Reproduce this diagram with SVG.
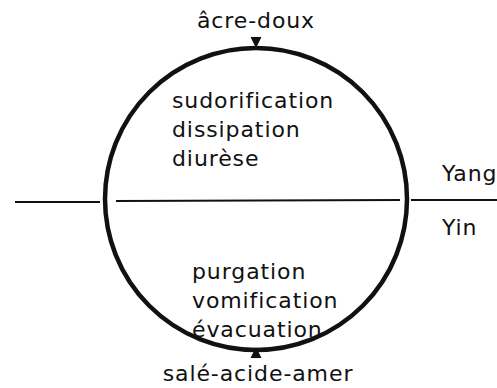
<svg xmlns="http://www.w3.org/2000/svg" width="497" height="388" viewBox="0 0 497 388">
<style>
text{font-family:"DejaVu Sans","Liberation Sans",sans-serif;font-size:22px;fill:#111;letter-spacing:0.9px}
.ln{stroke:#111;stroke-width:2;fill:none}
.c{stroke:#111;stroke-width:4.5;fill:none}
</style>
<defs>
<marker id="ah" viewBox="0 0 10 10" refX="10" refY="5" markerWidth="11" markerHeight="12" markerUnits="userSpaceOnUse" orient="auto"><path d="M0,0L10,5L0,10z" fill="#111"/></marker>
</defs>
<rect width="497" height="388" fill="#fff"/>
<g id="circle"><circle class="c" cx="256" cy="199" r="151"/></g>
<g id="connectors">
<line class="ln" x1="15" y1="202" x2="100" y2="202"/>
<line class="ln" x1="116" y1="201" x2="400" y2="200"/>
<line class="ln" x1="411" y1="200" x2="497" y2="200"/>
<line x1="256" y1="37" x2="256" y2="48" stroke="none" marker-end="url(#ah)"/>
<line x1="256" y1="358" x2="256" y2="347" stroke="none" marker-end="url(#ah)"/>
</g>
<g id="top"><text x="256" y="28" text-anchor="middle">âcre-doux</text></g>
<g id="yang-box"><text x="172" y="108">sudorification</text><text x="172" y="137">dissipation</text><text x="172" y="166">diurèse</text></g>
<g id="yin-box"><text x="192" y="279">purgation</text><text x="192" y="308">vomification</text><text x="192" y="337">évacuation</text></g>
<g id="bottom"><text x="258" y="381" text-anchor="middle">salé-acide-amer</text></g>
<g id="yang"><text x="442" y="181">Yang</text></g>
<g id="yin"><text x="442" y="235">Yin</text></g>
</svg>
